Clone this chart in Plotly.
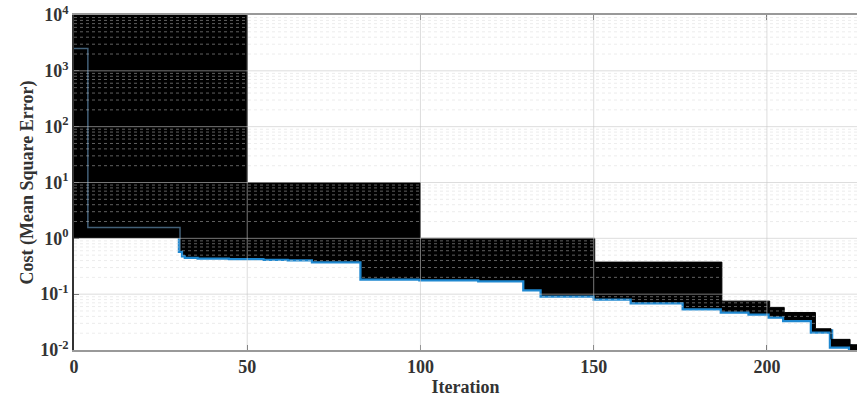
import numpy as np
import plotly.graph_objects as go

# Best cost per iteration (step curve)
iter_x = [0, 4, 30.6, 31.5, 32.3, 36, 45, 55, 62, 69, 83, 100, 117, 130, 135,
          150.3, 161, 176, 187, 195, 200.8, 205, 213, 218.5, 224, 226]
cost_y = [2500, 1.56, 0.6, 0.5, 0.47, 0.455, 0.445, 0.43, 0.42, 0.387, 0.19,
          0.185, 0.178, 0.122, 0.095, 0.084, 0.0715, 0.0558, 0.049, 0.045,
          0.040, 0.0343, 0.0215, 0.0116, 0.0099, 0.0099]

# Upper envelope of the population spread (black band)
env_x = [0, 50, 100, 150.3, 187, 200.8, 205, 214, 218.5, 224, 226]
env_y = [1e4, 10, 1.0, 0.375, 0.075, 0.058, 0.047, 0.024, 0.0155, 0.0124, 0.0124]
band_floor = 1.0

x_ticks = [0, 50, 100, 150, 200]
y_exps = [-2, -1, 0, 1, 2, 3, 4]
y_ticktext = [f"10<sup>{e}</sup>" for e in y_exps]

X_RANGE = [0, 226]
Y_RANGE = [-2, 4]

FONT = "Liberation Serif"

cost_arr = np.array(cost_y)
lower = np.minimum(cost_arr, band_floor)
# part of the curve hidden inside the band (before it becomes the band floor)
n_hidden = int(np.argmax(cost_arr < band_floor)) + 1

fig = go.Figure()
# blue curve beneath the band
fig.add_trace(go.Scatter(x=iter_x, y=cost_y, mode="lines",
                         line=dict(shape="hv", width=4.5, color="#1f88d0"), showlegend=False))
fig.add_trace(go.Scatter(x=iter_x, y=lower, mode="lines", line=dict(shape="hv", width=0, color="black"),
                         showlegend=False, hoverinfo="skip"))
fig.add_trace(go.Scatter(x=env_x, y=env_y, mode="lines", line=dict(shape="hv", width=1, color="black"),
                         fill="tonexty", fillcolor="black", showlegend=False, hoverinfo="skip"))
# faint trace of the curve showing through the band
fig.add_trace(go.Scatter(x=iter_x[:n_hidden], y=cost_y[:n_hidden], mode="lines",
                         line=dict(shape="hv", width=1.5, color="rgba(110,160,200,0.6)"),
                         showlegend=False, hoverinfo="skip"))

shapes = []
span = Y_RANGE[1] - Y_RANGE[0]
for e in range(Y_RANGE[0], Y_RANGE[1]):
    if e > Y_RANGE[0]:
        f = (e - Y_RANGE[0]) / span
        shapes.append(dict(type="line", xref="x domain", yref="y domain", x0=0, x1=1, y0=f, y1=f,
                           layer="above", line=dict(color="rgba(198,198,198,0.6)", width=1)))
    for m in range(2, 10):
        f = (e + np.log10(m) - Y_RANGE[0]) / span
        shapes.append(dict(type="line", xref="x domain", yref="y domain", x0=0, x1=1, y0=f, y1=f,
                           layer="above", line=dict(color="rgba(212,212,212,0.45)", width=1, dash="dot")))
for xv in x_ticks[1:]:
    shapes.append(dict(type="line", xref="x", yref="y domain", x0=xv, x1=xv, y0=0, y1=1,
                       layer="above", line=dict(color="rgba(198,198,198,0.6)", width=1)))

fig.update_layout(
    width=857, height=400,
    margin=dict(l=74, r=0, t=15, b=50),
    plot_bgcolor="white", paper_bgcolor="white",
    shapes=shapes,
    xaxis=dict(range=X_RANGE, tickvals=x_ticks, showgrid=False, zeroline=False,
               ticks="inside", ticklen=5, tickcolor="#555", showline=True, linecolor="#999",
               linewidth=1.5, mirror="allticks",
               tickfont=dict(family=FONT, size=18, color="#333", weight="bold"),
               title=dict(text="Iteration", font=dict(family=FONT, size=18, color="#333", weight="bold"),
                          standoff=3)),
    yaxis=dict(type="log", range=Y_RANGE, tickvals=[10.0 ** e for e in y_exps], ticktext=y_ticktext,
               showgrid=False, zeroline=False, ticks="inside", ticklen=5, tickcolor="#444",
               showline=True, linecolor="#333", linewidth=1.5,
               tickfont=dict(family=FONT, size=18, color="#333", weight="bold"),
               title=dict(text="Cost (Mean Square Error)",
                          font=dict(family=FONT, size=18, color="#333", weight="bold"), standoff=2)),
)

fig.write_html("out.html")
